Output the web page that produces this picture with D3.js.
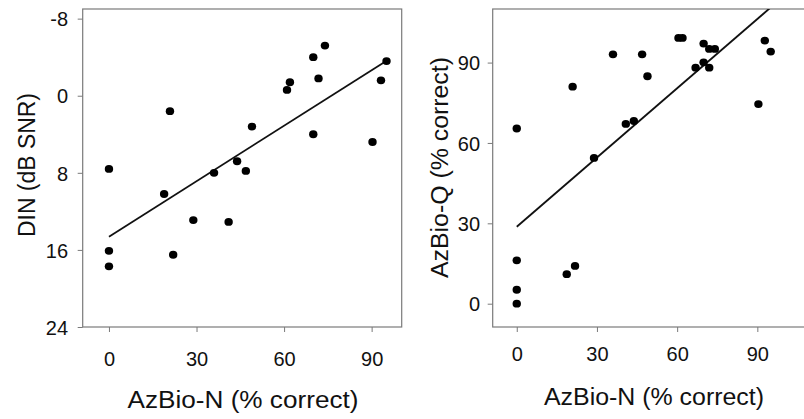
<!DOCTYPE html>
<html>
<head>
<meta charset="utf-8">
<script src="https://cdn.jsdelivr.net/npm/d3@7"></script>
<style>
  body { margin: 0; background: #fff; }
  svg { display: block; }
  text { font-family: "Liberation Sans", Arial, sans-serif; fill: #111; }
</style>
</head>
<body>
<svg id="chart" width="804" height="419"></svg>
<script>
// ---- data ----
const leftX = [0, 0, 0, 20.9, 18.9, 22.0, 28.9, 36.0, 41.0, 43.9, 46.9, 49.0, 61.0, 62.0, 70.0, 74.0, 71.8, 70.0, 90.3, 93.2, 95.1];
const leftY = [7.6, 16.1, 17.7, 1.6, 10.2, 16.5, 12.9, 8.0, 13.1, 6.8, 7.8, 3.2, -0.6, -1.4, -4.0, -5.2, -1.8, 4.0, 4.8, -1.6, -3.6];
const rightX = [0, 0, 0, 0, 20.9, 18.7, 21.8, 28.9, 36.0, 40.8, 43.8, 46.9, 48.9, 60.5, 62.0, 66.9, 69.9, 69.9, 72.0, 72.0, 74.1, 90.4, 92.8, 95.0];
const rightY = [65.4, 16.2, 5.2, 0, 81.0, 11.0, 14.1, 54.4, 93.1, 67.1, 68.2, 93.1, 84.9, 99.2, 99.2, 88.1, 97.1, 90.1, 95.1, 88.1, 95.1, 74.5, 98.2, 94.1];
const leftFit = { intercept: 14.63, slope: -0.192, x0: 0, x1: 95 };
const rightFit = { intercept: 28.7, slope: 0.862, x0: 0, x1: 95 };
const xTicks = [0, 30, 60, 90];
const leftYTicks = [-8, 0, 8, 16, 24];
const rightYTicks = [0, 30, 60, 90];
const xTitle = "AzBio-N (% correct)";
const leftYTitle = "DIN (dB SNR)";
const rightYTitle = "AzBio-Q (% correct)";

const svg = d3.select("#chart");
const frameColor = "#7a7a7a";
const fmt = d => String(d);

function panel(cfg) {
  const x = d3.scaleLinear().domain(cfg.xDomain).range(cfg.xRange);
  const y = d3.scaleLinear().domain(cfg.yDomain).range(cfg.yRange);
  const g = svg.append("g");
  const top = Math.min(...cfg.yRange), bottom = Math.max(...cfg.yRange);
  const left = cfg.xRange[0], right = cfg.xRange[1];

  // clip
  const clipId = cfg.id + "-clip";
  svg.append("clipPath").attr("id", clipId)
    .append("rect").attr("x", left).attr("y", top)
    .attr("width", right - left).attr("height", bottom - top);

  // frame
  g.append("rect").attr("x", left).attr("y", top)
    .attr("width", right - left).attr("height", bottom - top)
    .attr("fill", "none").attr("stroke", frameColor).attr("stroke-width", 1.2);

  // axes
  const xAxis = d3.axisBottom(x).tickValues(xTicks).tickSize(5).tickPadding(8).tickFormat(fmt);
  const gx = g.append("g").attr("transform", `translate(0,${bottom})`).call(xAxis);
  gx.select(".domain").remove();
  gx.selectAll("line").attr("stroke", frameColor);
  gx.selectAll("text").attr("font-size", 20).attr("fill", "#111")
    .attr("y", cfg.xLabelBaseline - bottom).attr("dy", 0);

  const yAxis = d3.axisLeft(y).tickValues(cfg.yTicks).tickSize(5).tickFormat(fmt);
  const gy = g.append("g").attr("transform", `translate(${left},0)`).call(yAxis);
  gy.select(".domain").remove();
  gy.selectAll("line").attr("stroke", frameColor);
  gy.selectAll("text").attr("font-size", 20).attr("fill", "#111")
    .attr("x", cfg.yLabelRight - left).attr("dy", "0.36em");

  // regression line
  const fit = cfg.fit;
  g.append("line")
    .attr("clip-path", `url(#${clipId})`)
    .attr("x1", x(fit.x0)).attr("y1", y(fit.intercept + fit.slope * fit.x0))
    .attr("x2", x(fit.x1)).attr("y2", y(fit.intercept + fit.slope * fit.x1))
    .attr("stroke", "#111").attr("stroke-width", 1.8);

  // points
  g.append("g").selectAll("ellipse").data(cfg.xs.map((v, i) => [v, cfg.ys[i]]))
    .join("ellipse")
    .attr("cx", d => x(d[0])).attr("cy", d => y(d[1]))
    .attr("rx", 4.2).attr("ry", 3.9).attr("fill", "#000");

  // titles
  g.append("text")
    .attr("x", cfg.xTitleX).attr("y", cfg.xTitleBaseline)
    .attr("text-anchor", "middle").attr("font-size", 23)
    .attr("textLength", cfg.xTitleLen).attr("lengthAdjust", "spacingAndGlyphs")
    .text(xTitle);

  g.append("text")
    .attr("transform", `translate(${cfg.yTitleX},${cfg.yTitleY}) rotate(-90)`)
    .attr("text-anchor", "middle").attr("font-size", 23)
    .attr("textLength", cfg.yTitleLen).attr("lengthAdjust", "spacingAndGlyphs")
    .text(cfg.yTitle);
}

panel({
  id: "left",
  xDomain: [-9, 100.3], xRange: [82.7, 401.7],
  yDomain: [-9, 24], yRange: [9, 327],
  yTicks: leftYTicks, xs: leftX, ys: leftY, fit: leftFit,
  xLabelBaseline: 365.5, yLabelRight: 68,
  xTitleX: 243, xTitleBaseline: 408, xTitleLen: 231,
  yTitle: leftYTitle, yTitleX: 35, yTitleY: 165, yTitleLen: 144
});

panel({
  id: "right",
  xDomain: [-9, 110], xRange: [492.7, 810.8],
  yDomain: [-8.7, 110], yRange: [327, 9],
  yTicks: rightYTicks, xs: rightX, ys: rightY, fit: rightFit,
  xLabelBaseline: 361, yLabelRight: 480,
  xTitleX: 654, xTitleBaseline: 405, xTitleLen: 220,
  yTitle: rightYTitle, yTitleX: 448, yTitleY: 167.5, yTitleLen: 221
});
</script>
</body>
</html>
